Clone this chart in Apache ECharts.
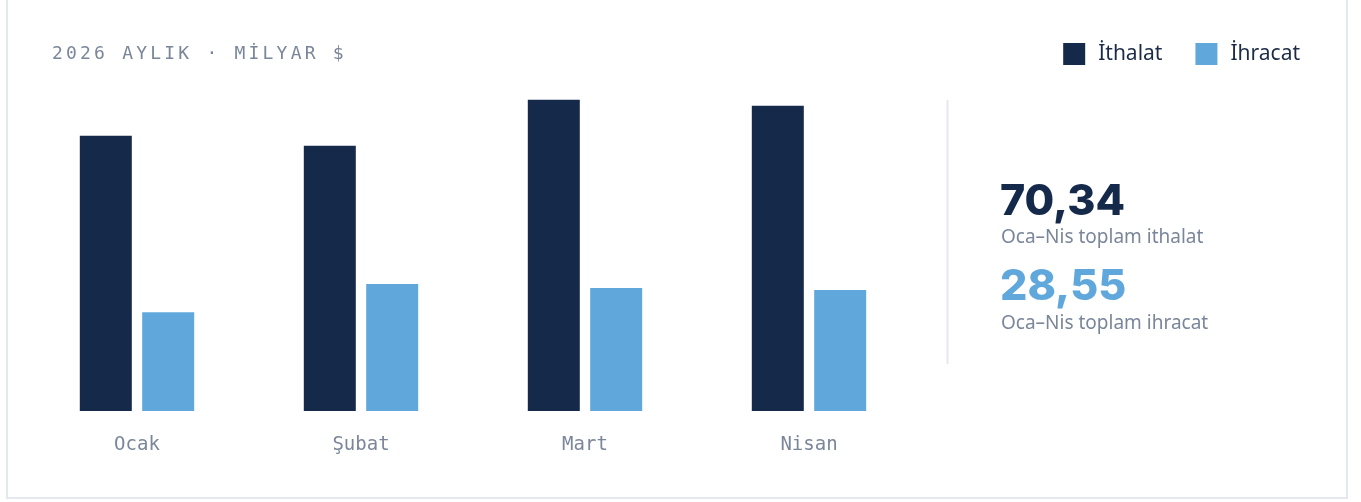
<!DOCTYPE html>
<html>
<head>
<meta charset="utf-8">
<script src="https://cdn.jsdelivr.net/npm/echarts@6/dist/echarts.min.js"></script>
<style>
  html, body { margin: 0; padding: 0; background: #fff; }
  #card {
    position: absolute; left: 6px; top: -10px; width: 1338px; height: 505px;
    border: 2px solid #e4e9ef; background: #fff;
  }
  #chart { position: absolute; left: 0; top: 0; width: 1361px; height: 502px; }
  #title {
    position: absolute; left: 52px; top: 42px;
    font-family: "DejaVu Sans Mono", monospace; font-size: 18px;
    letter-spacing: 3.2px; color: #7a8699; line-height: 22px;
  }
</style>
</head>
<body>
<div id="card"></div>
<div id="chart"></div>
<div id="title">2026 AYLIK · MİLYAR $</div>
<script>
  // aylar ve değerler (milyar $)
  const months = ["Ocak", "Şubat", "Mart", "Nisan"];
  const ithalat = [16.73, 16.13, 18.92, 18.56];
  const ihracat = [6.01, 7.72, 7.47, 7.35];
  const seriesNames = ["İthalat", "İhracat"];
  const colors = ["#15294b", "#60a8db"];

  const sum = arr => arr.reduce((a, b) => a + b, 0);
  const fmt = v => v.toFixed(2).replace(".", ",");

  const chart = echarts.init(document.getElementById("chart"));

  let option = {
    animation: false,
    grid: {
      left: 25,
      width: 896,
      top: 82,
      bottom: 91,
    },
    legend: {
      right: 56,
      top: 38,
      itemWidth: 22,
      itemHeight: 22,
      itemGap: 33,
      icon: "rect",
      textStyle: {
        fontFamily: "Noto Sans",
        fontSize: 21,
        color: "#1c2b47",
        padding: [0, 0, 0, 8],
      },
      data: seriesNames,
    },
    xAxis: {
      type: "category",
      data: months,
      axisLine: { show: false },
      axisTick: { show: false },
      axisLabel: {
        margin: 25,
        fontFamily: "DejaVu Sans Mono",
        fontSize: 19,
        color: "#7a8699",
      },
    },
    yAxis: {
      type: "value",
      min: 0,
      max: 20,
      show: false,
      splitLine: { show: false },
    },
    series: [
      {
        name: seriesNames[0],
        type: "bar",
        barWidth: 52,
        barGap: "20%",
        itemStyle: { color: colors[0] },
        data: ithalat,
      },
      {
        name: seriesNames[1],
        type: "bar",
        barWidth: 52,
        barGap: "20%",
        itemStyle: { color: colors[1] },
        data: ihracat,
      },
    ],
    graphic: [
      {
        type: "line",
        shape: { x1: 947.5, y1: 100, x2: 947.5, y2: 364 },
        style: { stroke: "#e4e9ef", lineWidth: 2 },
      },
      {
        type: "text",
        left: 1000,
        top: 181,
        style: {
          text: fmt(sum(ithalat)),
          fontFamily: "Inter",
          fontWeight: 800,
          fontSize: 43,
          fill: colors[0],
        },
      },
      {
        type: "text",
        left: 1001,
        top: 228,
        style: {
          text: "Oca–Nis toplam ithalat",
          fontFamily: "Noto Sans",
          fontSize: 19,
          fill: "#7a8699",
        },
      },
      {
        type: "text",
        left: 1000,
        top: 266,
        style: {
          text: fmt(sum(ihracat)),
          fontFamily: "Inter",
          fontWeight: 800,
          fontSize: 43,
          fill: colors[1],
        },
      },
      {
        type: "text",
        left: 1001,
        top: 314,
        style: {
          text: "Oca–Nis toplam ihracat",
          fontFamily: "Noto Sans",
          fontSize: 19,
          fill: "#7a8699",
        },
      },
    ],
  };
  chart.setOption(option);
</script>
</body>
</html>
